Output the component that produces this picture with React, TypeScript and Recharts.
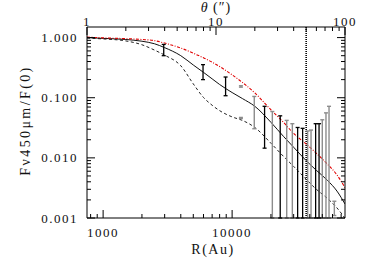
import React from 'react'
import { ComposedChart, Line, Scatter, ErrorBar, XAxis, YAxis, ReferenceLine } from 'recharts'

// radius grid of the model curves (AU)
const R_GRID = [750, 1000, 1500, 2000, 2500, 3000, 4000, 5000, 6000, 7000, 8000, 10000, 12000, 15000, 20000, 25000, 30000, 37500, 45000, 55000, 65000, 75000]
const RED_MODEL = [1.02, 0.99, 0.96, 0.93, 0.89, 0.81, 0.67, 0.55, 0.46, 0.39, 0.33, 0.24, 0.18, 0.12, 0.063, 0.039, 0.0255, 0.017, 0.0119, 0.0078, 0.0052, 0.0032]
const SOLID_MODEL = [1.0, 0.97, 0.93, 0.87, 0.79, 0.68, 0.5, 0.35, 0.264, 0.206, 0.166, 0.122, 0.097, 0.072, 0.039, 0.0228, 0.015, 0.009, 0.0062, 0.0042, 0.0028, 0.00171]
const DASHED_MODEL = [0.98, 0.95, 0.88, 0.76, 0.62, 0.51, 0.34, 0.17, 0.101, 0.075, 0.061, 0.048, 0.042, 0.032, 0.0175, 0.0106, 0.0072, 0.0044, 0.003, 0.0021, 0.00147, 0.00099]
const AU_PER_ARCSEC = 750

// observed profile, error bars (upper / lower bound)
const BLACK_R = [2950, 5950, 8900, 17850, 23600, 32200, 35200, 44400, 47200]
const BLACK_HI = [0.77, 0.355, 0.221, 0.072, 0.05, 0.032, 0.031, 0.037, 0.037]
const BLACK_LO = [0.5, 0.2, 0.108, 0.0145, 0.001, 0.001, 0.001, 0.001, 0.001]
const GREY_R = [11700, 11700, 14850, 20500, 26500, 29300, 38500, 40900, 50000, 53400, 56400, 62000]
const GREY_HI = [0.158, 0.047, 0.105, 0.059, 0.042, 0.037, 0.028, 0.029, 0.043, 0.056, 0.072, 0.0019]
const GREY_LO = [0.15, 0.045, 0.0305, 0.001, 0.001, 0.001, 0.001, 0.001, 0.001, 0.001, 0.001, 0.0011]

const THETA_TICKS = [1, 2, 3, 4, 5, 6, 7, 8, 9, 10, 20, 30, 40, 50, 60, 70, 80, 90, 100]
const THETA_MAJOR = [1, 10, 100]
const R_TICKS = [800, 900, 1000, 2000, 3000, 4000, 5000, 6000, 7000, 8000, 9000, 10000, 20000, 30000, 40000, 50000, 60000, 70000]
const R_MAJOR = [1000, 10000]
const F_TICKS = [0.001, 0.002, 0.003, 0.004, 0.005, 0.006, 0.007, 0.008, 0.009, 0.01, 0.02, 0.03, 0.04, 0.05, 0.06, 0.07, 0.08, 0.09, 0.1, 0.2, 0.3, 0.4, 0.5, 0.6, 0.7, 0.8, 0.9, 1]
const F_MAJOR = [0.001, 0.01, 0.1, 1]
const R_LIMIT = 37500

const redData = R_GRID.map((R, i) => ({ R, F: RED_MODEL[i] }))
const solidData = R_GRID.map((R, i) => ({ R, F: SOLID_MODEL[i] }))
const dashedData = R_GRID.map((R, i) => ({ R, F: DASHED_MODEL[i] }))
// same model against angular radius, only to carry the top / right axes
const thetaData = R_GRID.map((R, i) => ({ theta: R / AU_PER_ARCSEC, F: SOLID_MODEL[i] }))
const blackBars = BLACK_R.map((R, i) => ({ R, F: BLACK_HI[i], err: [BLACK_HI[i] - BLACK_LO[i], 0] }))
const greyBars = GREY_R.map((R, i) => ({ R, F: GREY_HI[i], err: [GREY_HI[i] - GREY_LO[i], 0] }))

const FONT = '"Liberation Serif", serif'
const INK = '#111'

const fmtF = (v: number) => v.toFixed(3)

const makeTick = (side: string, majors: number[], fmt?: (v: number) => string) => (props: any) => {
  const { x, y, payload } = props
  const v = payload.value
  const major = majors.includes(v)
  const len = major ? 8 : 4
  let line
  let label = null
  const txt = fmt ? fmt(v) : String(v)
  const ts = { fontFamily: FONT, fontSize: 13, letterSpacing: 1.5, fill: INK }
  if (side === 'bottom') {
    line = <line x1={x} y1={y} x2={x} y2={y - len} stroke="#000" />
    if (major && fmt) label = <text x={x} y={y + 19} textAnchor="middle" style={ts}>{txt}</text>
  } else if (side === 'top') {
    line = <line x1={x} y1={y} x2={x} y2={y + len} stroke="#000" />
    if (major && fmt) label = <text x={x} y={y - 1.5} textAnchor="middle" style={ts}>{txt}</text>
  } else if (side === 'left') {
    line = <line x1={x} y1={y} x2={x + len} y2={y} stroke="#000" />
    if (major && fmt) label = <text x={x - 9} y={y} dy="0.35em" textAnchor="end" style={ts}>{txt}</text>
  } else {
    line = <line x1={x} y1={y} x2={x - len} y2={y} stroke="#000" />
  }
  return (
    <g>
      {line}
      {label}
    </g>
  )
}

const noDot = () => <g />

export default function App() {
  return (
    <div style={{ position: 'absolute', left: 0, top: 0, width: 370, height: 273, background: '#fff' }}>
      <ComposedChart width={370} height={273} margin={{ top: 0, right: 0, bottom: 0, left: 0 }}>
        <XAxis
          dataKey="R"
          type="number"
          scale="log"
          domain={[750, 75000]}
          allowDataOverflow
          ticks={R_TICKS}
          height={55}
          tickSize={0}
          tickMargin={0}
          tickLine={false}
          interval={0}
          axisLine={{ stroke: '#000' }}
          tick={makeTick('bottom', R_MAJOR, String)}
          label={{
            content: (p: any) => (
              <text x={p.viewBox.x + p.viewBox.width / 2 - 3} y={p.viewBox.y + 36} textAnchor="middle" style={{ fontFamily: FONT, fontSize: 14, letterSpacing: 1.5, fill: INK }}>
                R(Au)
              </text>
            ),
          }}
        />
        <XAxis
          xAxisId="top"
          dataKey="theta"
          orientation="top"
          type="number"
          scale="log"
          domain={[1, 100]}
          allowDataOverflow
          ticks={THETA_TICKS}
          height={27}
          tickSize={0}
          tickMargin={0}
          tickLine={false}
          interval={0}
          axisLine={{ stroke: '#000' }}
          tick={makeTick('top', THETA_MAJOR, String)}
          label={{
            content: (p: any) => (
              <text x={p.viewBox.x + p.viewBox.width / 2} y={p.viewBox.y + 12} textAnchor="middle" style={{ fontFamily: FONT, fontSize: 14, letterSpacing: 1, fill: INK }}>
                <tspan fontStyle="italic">θ</tspan> (″)
              </text>
            ),
          }}
        />
        <YAxis
          type="number"
          scale="log"
          domain={[0.001, 1.5]}
          allowDataOverflow
          ticks={F_TICKS}
          width={87}
          tickSize={0}
          tickMargin={0}
          tickLine={false}
          interval={0}
          axisLine={{ stroke: '#000' }}
          tick={makeTick('left', F_MAJOR, fmtF)}
          label={{
            content: (p: any) => {
              const cx = p.viewBox.x + 25
              const cy = p.viewBox.y + p.viewBox.height / 2 - 2
              return (
                <text x={cx} y={cy} dy="0.35em" textAnchor="middle" transform={`rotate(-90, ${cx}, ${cy})`} style={{ fontFamily: FONT, fontSize: 14, letterSpacing: 2.4, fill: INK }}>
                  Fν450μm/F(0)
                </text>
              )
            },
          }}
        />
        <YAxis
          yAxisId="right"
          orientation="right"
          type="number"
          scale="log"
          domain={[0.001, 1.5]}
          allowDataOverflow
          ticks={F_TICKS}
          width={25}
          tickSize={0}
          tickMargin={0}
          tickLine={false}
          interval={0}
          axisLine={{ stroke: '#000' }}
          tick={makeTick('right', F_MAJOR)}
        />
        <ReferenceLine x={R_LIMIT} stroke="#000" strokeWidth={1.6} strokeDasharray="1 1" />
        <Line data={thetaData} xAxisId="top" yAxisId="right" dataKey="F" stroke="none" dot={false} activeDot={false} legendType="none" isAnimationActive={false} />
        <Line data={dashedData} dataKey="F" type="monotone" stroke="#222" strokeWidth={1} strokeDasharray="3 2.5" dot={false} isAnimationActive={false} />
        <Line data={solidData} dataKey="F" type="monotone" stroke="#111" strokeWidth={1} dot={false} isAnimationActive={false} />
        <Line data={redData} dataKey="F" type="monotone" stroke="#e00000" strokeWidth={1.1} strokeDasharray="3 1.5 1 1.5" dot={false} isAnimationActive={false} />
        <Scatter data={greyBars} dataKey="F" shape={noDot} isAnimationActive={false}>
          <ErrorBar dataKey="err" direction="y" width={2} stroke="#8c8c8c" strokeWidth={1.4} isAnimationActive={false} />
        </Scatter>
        <Scatter data={blackBars} dataKey="F" shape={noDot} isAnimationActive={false}>
          <ErrorBar dataKey="err" direction="y" width={2} stroke="#000" strokeWidth={1.3} isAnimationActive={false} />
        </Scatter>
      </ComposedChart>
    </div>
  )
}
